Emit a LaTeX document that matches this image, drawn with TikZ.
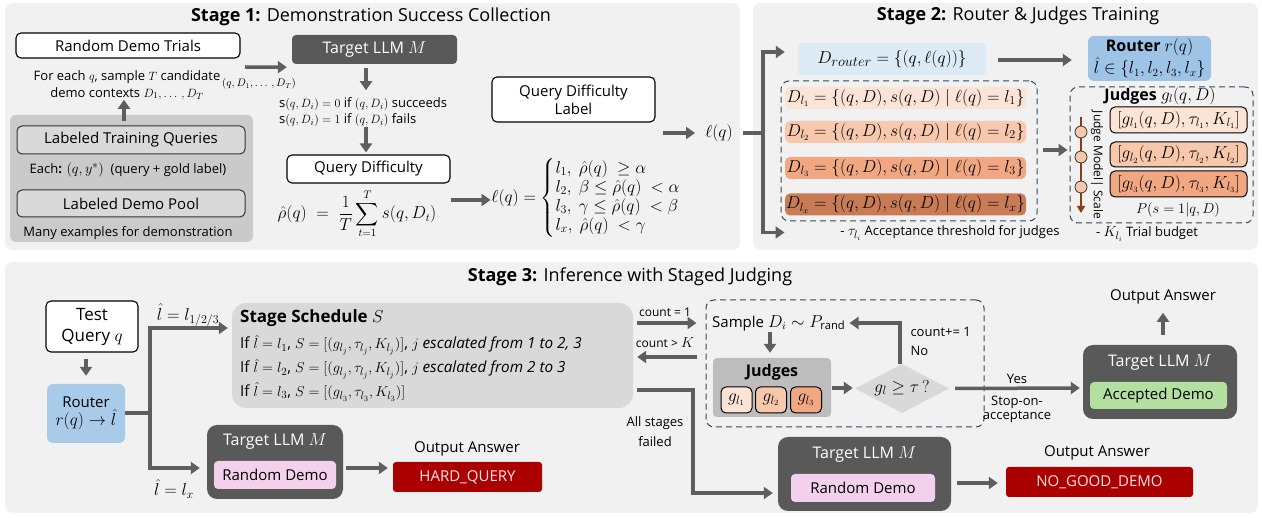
\documentclass[tikz,border=0pt]{standalone}
\usepackage{amsmath,amssymb}
\usepackage{fontspec}
\setmainfont{Open Sans}
\usetikzlibrary{arrows.meta,shapes.geometric,calc}
\definecolor{panel}{HTML}{F1F1F1}
\definecolor{arrc}{HTML}{5E5E5E}
\definecolor{darkc}{HTML}{595959}
\definecolor{lgray}{HTML}{D9D9D9}
\definecolor{mgray}{HTML}{CACACA}
\definecolor{jgray}{HTML}{BDBDBD}
\definecolor{lblue}{HTML}{DDEBF7}
\definecolor{mblue}{HTML}{9DC3E6}
\definecolor{sblue}{HTML}{A9CBEA}
\definecolor{dred}{HTML}{AB0000}
\definecolor{pinkc}{HTML}{F3D0EC}
\definecolor{greenc}{HTML}{B3DFA0}
\definecolor{oa}{HTML}{FBE3D6}
\definecolor{ob}{HTML}{F7C8AB}
\definecolor{oc}{HTML}{F1A882}
\definecolor{od}{HTML}{C97B55}
\definecolor{dashc}{HTML}{2F4A5C}
\definecolor{brownc}{HTML}{8E3A12}
\newcommand{\fsttl}{\fontsize{18}{21}\selectfont}
\newcommand{\fsxl}{\fontsize{17}{21}\selectfont}
\newcommand{\fsbig}{\fontsize{15}{18}\selectfont}
\newcommand{\fsmid}{\fontsize{13}{16.5}\selectfont}
\newcommand{\fssmall}{\fontsize{12}{14}\selectfont}
\newcommand{\fstiny}{\fontsize{10.5}{12}\selectfont}
\tikzset{
  panelbox/.style={fill=panel, rounded corners=8pt, inner sep=0pt},
  arr/.style={draw=arrc, line width=3.5pt, -{Triangle[length=9pt,width=12pt]}},
  ln/.style={draw=arrc, line width=3.5pt},
  wbox/.style={draw=black, line width=1.1pt, fill=white, rounded corners=5pt, inner sep=0pt, font=\fsbig, align=center},
  gbox/.style={draw=black!80, line width=1pt, fill=lgray, rounded corners=5pt, inner sep=0pt, font=\fsbig},
  llmbox/.style={fill=darkc, rounded corners=10pt, inner sep=0pt},
  llmtxt/.style={text=white, font=\fontsize{16}{19}\selectfont, inner sep=0pt},
  txt/.style={font=\fsmid, inner sep=0pt, align=center},
  dbox/.style={rounded corners=5pt, inner sep=0pt, minimum width=241pt, minimum height=22pt, font=\fontsize{16.5}{19}\selectfont},
  jbox/.style={draw=black, line width=1pt, rounded corners=5pt, inner sep=0pt, minimum width=137pt, font=\fontsize{17}{20}\selectfont},
  gsm/.style={draw=black, line width=1pt, rounded corners=5pt, inner sep=0pt, minimum width=31pt, minimum height=26pt, font=\fontsize{17}{20}\selectfont},
  dashbox/.style={draw=dashc, line width=1pt, rounded corners=8pt, dash pattern=on 6pt off 4pt, inner sep=0pt},
  redbox/.style={fill=dred, rounded corners=3pt, text=white!90!red, font=\fsbig, inner sep=0pt},
  pinkbox/.style={fill=pinkc, rounded corners=4pt, inner sep=0pt, font=\fsbig},
}
\begin{document}
\begin{tikzpicture}[x=1pt,y=-1pt]
\useasboundingbox[fill=white] (0,0) rectangle (1262,518);
%% ---------------- Stage 1
\node[panelbox, minimum width=735, minimum height=247] (p1) at (372.5,126.5) {};
\node[font=\fsttl] (t1) at (371,17) {\textbf{Stage 1:} Demonstration Success Collection};
\node[wbox, minimum width=224, minimum height=25] (rdt) at (128,45.5) {Random Demo Trials};
\node[txt] (foreach) at (127,85) {For each $q$, sample $T$ candidate\\demo contexts $D_1, \ldots\,, D_T$};
\node[font=\fstiny, inner sep=0pt] (tuple) at (259,84) {$(q, D_1, \ldots\,, D_T)$};
\node[llmbox, rounded corners=4pt, minimum width=165, minimum height=29, text=white, font=\fontsize{16}{19}\selectfont] (tllm1) at (374.5,49.5) {Target LLM $M$};
\node[txt, align=left, anchor=west] (sline) at (279,112) {$\mathrm{s}(q,D_i)=0$ if $(q,D_i)$ succeeds\\$\mathrm{s}(q,D_i)=1$ if $(q,D_i)$ fails};
\node[wbox, minimum width=163, minimum height=28] (qd) at (368.5,169) {Query Difficulty};
\node[font=\fontsize{16}{19}\selectfont, inner sep=0pt] (rho) at (357,214) {$\displaystyle \hat\rho(q)\;=\;\frac{1}{T}\sum_{t=1}^{T} s(q,D_t)$};
\node[wbox, minimum width=163, minimum height=45] (qdl) at (573.5,99.5) {Query Difficulty\\Label};
\node[font=\fontsize{16.5}{19}\selectfont, inner sep=0pt] (cases) at (586,198) {$\ell(q)=\left\{\begin{array}{@{}l@{}} l_1,\ \hat\rho(q)\ \geq \alpha\\ l_2,\ \beta\leq\hat\rho(q)\ <\alpha\\ l_3,\ \gamma\leq\hat\rho(q)\ <\beta\\ l_x,\ \hat\rho(q)\ <\gamma\end{array}\right.$};
\node[font=\fontsize{18}{20}\selectfont, inner sep=0pt] (ellq) at (719,133) {$\ell(q)$};
\node[fill=mgray, rounded corners=6pt, minimum width=243, minimum height=127, inner sep=0pt] (grp) at (131.5,178.5) {};
\node[gbox, minimum width=228, minimum height=28] (ltq) at (131,140) {Labeled Training Queries};
\node[txt] (each) at (128,170) {Each\textbf{:} {\fontsize{15}{17}\selectfont$(q, y^{*})$} \ (query + gold label)};
\node[gbox, minimum width=228, minimum height=27] (ldp) at (131,203.5) {Labeled Demo Pool};
\node[txt] (many) at (128,233) {Many examples for demonstration};
\coordinate (a1) at (245,67);
\draw[arr] (a1) -- ($(tllm1.south west)+(-5,3)$);
\draw[arr] ($(grp.north)+(-7.5,6)$) -- ++(0,-21);
\draw[arr] ($(tllm1.south)+(-8.5,4)$) -- ++(0,22);
\draw[arr] ($(qd.north)+(-2.5,-27)$) -- ++(0,25);
\draw[arr] ($(qd.east)+(0,31)$) -- ++(40,0);
\draw[arr] ($(ellq.west)+(-42,0)$) -- ($(ellq.west)+(-10,0)$);
%% ---------------- Stage 2
\node[panelbox, minimum width=505, minimum height=247] (p2) at (1005.5,126.5) {};
\node[font=\fsttl] (t2) at (1018,16) {\textbf{Stage 2:} Router \& Judges Training};
\node[fill=lblue, rounded corners=3pt, minimum width=188, minimum height=32, inner sep=0pt, font=\fontsize{19}{21}\selectfont] (drouter) at (892,59) {$D_{router}=\{(q,\ell(q))\}$};
\node[fill=mblue, rounded corners=6pt, minimum width=123, minimum height=45, inner sep=0pt, align=center, font=\fontsize{16}{19}\selectfont] (router2) at (1149.5,58.5) {\textbf{Router} $r(q)$\\$\hat{l}\in\{l_1,l_2,l_3,l_x\}$};
\draw[arr] ($(drouter.east)+(12,1)$) -- ($(router2.west)+(-16,1.5)$);
\node[dashbox, minimum width=256, minimum height=140] (dl) at (909,151) {};
\node[dbox, fill=oa] (d1) at (905.5,98) {$D_{l_1}=\{(q,D),s(q,D)\mid \ell(q)=l_1\}$};
\node[dbox, fill=ob] (d2) at (905.5,132) {$D_{l_2}=\{(q,D),s(q,D)\mid \ell(q)=l_2\}$};
\node[dbox, fill=oc] (d3) at (905.5,168) {$D_{l_3}=\{(q,D),s(q,D)\mid \ell(q)=l_3\}$};
\node[dbox, fill=od] (d4) at (905.5,204.5) {$D_{l_x}=\{(q,D),s(q,D)\mid \ell(q)=l_x\}$};
\draw[arr] ($(dl.east)+(5,-1)$) -- ($(dl.east)+(30,-1)$);
\node[dashbox, minimum width=183, minimum height=136] (dj) at (1161.5,155) {};
\node[font=\fontsize{16}{19}\selectfont] (jt) at (1160,96) {\textbf{Judges} $g_l(q,D)$};
\coordinate (sc1) at (1081,117);
\coordinate (sc2) at (1081,213);
\draw[brownc, line width=2.5pt, -{Triangle[length=7pt,width=8pt]}] (sc1) -- (sc2);
\node[circle, draw=black!80, fill=ob, minimum size=12pt, inner sep=0pt, line width=0.8pt] (c1) at (1081,132) {};
\node[circle, draw=black!80, fill=ob, minimum size=12pt, inner sep=0pt, line width=0.8pt] (c2) at (1081,157) {};
\node[circle, draw=black!80, fill=ob, minimum size=12pt, inner sep=0pt, line width=0.8pt] (c3) at (1081,187) {};
\node[rotate=-90, font=\fssmall, inner sep=0pt] (jms) at (1097,165) {Judge Model| Scale};
\node[jbox, fill=oa, minimum height=26] (j1) at (1178.5,120) {$[g_{l_1}(q,D),\tau_{l_1},K_{l_1}]$};
\node[jbox, fill=ob, minimum height=25] (j2) at (1178.5,154.5) {$[g_{l_2}(q,D),\tau_{l_2},K_{l_2}]$};
\node[jbox, fill=oc, minimum height=26] (j3) at (1178.5,184) {$[g_{l_3}(q,D),\tau_{l_3},K_{l_3}]$};
\node[font=\fontsize{15}{17}\selectfont] (pq) at (1178,210) {$P(s=1|q,D)$};
\node[font=\fsmid] (n1) at (950,233) {- {\fontsize{15}{17}\selectfont$\tau_{l_i}$} Acceptance threshold for judges};
\node[font=\fsmid] (n2) at (1147,234) {- {\fontsize{15}{17}\selectfont$K_{l_i}$} Trial budget};
\coordinate (br) at (763,133);
\draw[ln] ($(ellq.east)+(10,0)$) -- (br);
\draw[arr] (br) |- ($(drouter.west)+(-13,-7)$);
\draw[arr] (br) |- ($(dl.south west)+(4,11)$);
%% ---------------- Stage 3
\node[panelbox, minimum width=1253, minimum height=251] (p3) at (631.5,387.5) {};
\node[font=\fsttl] (t3) at (630,277) {\textbf{Stage 3:} Inference with Staged Judging};
\node[wbox, minimum width=92, minimum height=51, font=\fsxl] (tq) at (92,326.5) {Test\\Query $q$};
\node[fill=sblue, rounded corners=6pt, minimum width=78, minimum height=59, inner sep=0pt, align=center, font=\fsbig] (router3) at (86,413.5) {Router\\{\fontsize{17}{19}\selectfont$r(q)\rightarrow\hat{l}$}};
\draw[arr] ($(tq.south)+(-6,6)$) -- ($(router3.north)+(0,-8)$);
\node[fill=lgray, rounded corners=14pt, minimum width=401, minimum height=105, inner sep=0pt] (sched) at (432.5,355.5) {};
\node[anchor=west, font=\fsxl, inner sep=0pt] (schT) at (240,318) {\textbf{Stage Schedule} $S$};
\node[anchor=west, font=\fontsize{15.3}{19}\selectfont, inner sep=0pt] (schA) at (240,345) {If $\hat{l}=l_1$, $S=[(g_{l_j},\tau_{l_j},K_{l_j})]$, \textit{$j$ escalated from 1 to 2, 3}};
\node[anchor=west, font=\fontsize{15.3}{19}\selectfont, inner sep=0pt] (schB) at (240,369) {If $\hat{l}=l_2$, $S=[(g_{l_j},\tau_{l_j},K_{l_j})]$, \textit{$j$ escalated from 2 to 3}};
\node[anchor=west, font=\fontsize{15.3}{19}\selectfont, inner sep=0pt] (schC) at (240,392) {If $\hat{l}=l_3$, $S=[(g_{l_3},\tau_{l_3},K_{l_3})]$};
\node[llmbox, minimum width=136, minimum height=74] (tllmA) at (275,462) {};
\node[llmtxt] (tllmAt) at (275,442) {Target LLM $M$};
\node[pinkbox, minimum width=122, minimum height=28] (rdA) at (275,475) {Random Demo};
\node[redbox, minimum width=149, minimum height=30] (hard) at (467.5,477) {HARD\_QUERY};
\node[font=\fsbig] (oA) at (467,449) {Output Answer};
\coordinate (br3) at (150,413);
\draw[ln] (router3.east |- br3) -- (br3);
\draw[arr] (br3) |- ($(sched.west)+(-4,-27.5)$);
\draw[arr] (br3) |- ($(tllmA.west)+(-7,6)$);
\node[font=\fontsize{18}{21}\selectfont] (lab1) at (188,315) {$\hat{l}=l_{1/2/3}$};
\node[font=\fontsize{18}{21}\selectfont] (lab2) at (174,489) {$\hat{l}=l_x$};
\draw[arr] ($(tllmA.east)+(3,6)$) -- ($(hard.west)+(-5,-9)$);
%% judging loop
\node[dashbox, minimum width=278, minimum height=127] (dash3) at (845,363.5) {};
\draw[arr] ($(sched.east)+(4,-32.5)$) -- ($(dash3.west)+(-9,-40.5)$);
\node[font=\fssmall] (cnt1) at (665,312) {count = 1};
\draw[arr] ($(dash3.west)+(-9,-6.5)$) -- ($(sched.east)+(4,1.5)$);
\node[font=\fssmall] (cnt2) at (665,343) {count > {\fontsize{14}{16}\selectfont$K$}};
\node[font=\fsbig, anchor=west, inner sep=0pt] (samp) at (712,323) {Sample {\fontsize{16}{19}\selectfont$D_i\sim P_{\mathrm{rand}}$}};
\node[fill=jgray, rounded corners=4pt, minimum width=118, minimum height=59, inner sep=0pt] (jg) at (772,387.5) {};
\node[font=\fontsize{16}{19}\selectfont] (jgt) at (772,372) {\textbf{Judges}};
\node[gsm, fill=oa] (g1) at (736.5,400) {$g_{l_1}$};
\node[gsm, fill=ob] (g2) at (771,400) {$g_{l_2}$};
\node[gsm, fill=oc] (g3) at (806,400) {$g_{l_3}$};
\draw[arr] ($(jg.north)+(-2,-26)$) -- ($(jg.north)+(-2,-5)$);
\node[diamond, fill=lgray, minimum width=94pt, minimum height=49pt, inner sep=0pt] (dia) at (902,388.5) {};
\node[font=\fontsize{17}{19}\selectfont] (diat) at (902,388) {$g_l\geq\tau\,?$};
\draw[arr] ($(jg.east)+(1,0.5)$) -- ($(dia.west)+(-2,-0.5)$);
\draw[arr] ($(dia.north)+(-2,0)$) |- ($(samp.east)+(4,0)$);
\node[font=\fsmid, anchor=west] (cntp) at (907,332) {count+= 1};
\node[font=\fsmid, anchor=west] (no) at (907,351) {No};
\node[llmbox, minimum width=154, minimum height=74] (tllmC) at (1160,382) {};
\node[llmtxt] (tllmCt) at (1160,363) {Target LLM $M$};
\node[fill=greenc, rounded corners=4pt, minimum width=137, minimum height=27, inner sep=0pt, font=\fsbig] (acc) at (1158.5,395.5) {Accepted Demo};
\draw[arr] ($(dia.east)+(6,0)$) -- ($(tllmC.west)+(-3,6)$);
\node[font=\fsmid] (yes) at (1017,379) {Yes};
\node[font=\fontsize{13}{14}\selectfont, align=center] (soa) at (1017,409) {Stop-on-\\acceptance};
\draw[arr] ($(tllmC.north)+(3,-10)$) -- ++(0,-22);
\node[font=\fsbig] (oC) at (1163,297) {Output Answer};
\node[llmbox, minimum width=173, minimum height=74] (tllmB) at (864.5,474) {};
\node[llmtxt] (tllmBt) at (864.5,455) {Target LLM $M$};
\node[pinkbox, minimum width=144, minimum height=28] (rdB) at (863,488) {Random Demo};
\node[redbox, minimum width=187, minimum height=30] (nogood) at (1099.5,482) {NO\_GOOD\_DEMO};
\node[font=\fsbig] (oB) at (1097,453) {Output Answer};
\draw[arr] ($(tllmB.east)+(6,9)$) -- ($(nogood.west)+(-8,1)$);
\draw[arr] ($(sched.east)+(4,34.5)$) -- ++(56,0) |- ($(tllmB.west)+(-5,19)$);
\node[txt, font=\fontsize{13}{20}\selectfont] (fail) at (655,432) {All stages\\failed};
\end{tikzpicture}
\end{document}
